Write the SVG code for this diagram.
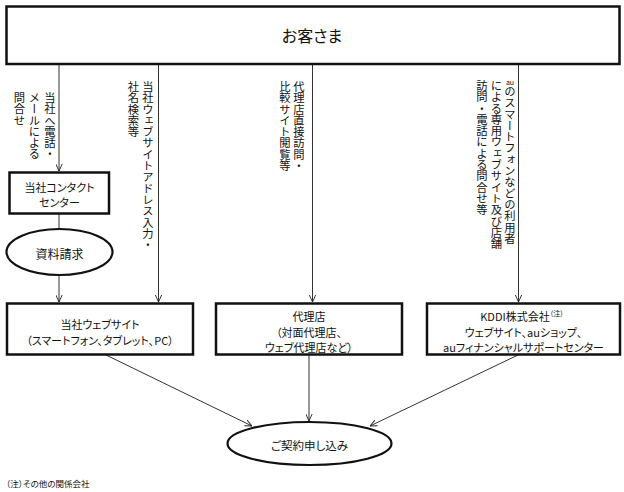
<svg xmlns="http://www.w3.org/2000/svg" width="624" height="492" viewBox="0 0 624 492">
<style>
text{font-family:"Noto Sans CJK JP","Noto Sans",sans-serif;fill:#111;}
.h{font-size:11px;text-anchor:middle;dominant-baseline:central;font-feature-settings:"palt";}
.v{font-size:11.3px;writing-mode:vertical-rl;text-anchor:start;}
.box{fill:#fff;stroke:#111;stroke-width:2.5;}
.ell{fill:#fff;stroke:#111;stroke-width:2.2;}
.ln{fill:none;stroke:#333;stroke-width:1;}
</style>
<defs>
<marker id="arr" viewBox="0 0 10 10" refX="10" refY="5" markerWidth="7" markerHeight="7" markerUnits="userSpaceOnUse" orient="auto">
<path d="M0,0.5 L10,5 L0,9.5" fill="none" stroke="#222" stroke-width="1.3"/>
</marker>
</defs>

<g id="connectors">
<line class="ln" x1="59" y1="64" x2="59" y2="171" marker-end="url(#arr)"/>
<line class="ln" x1="158.5" y1="64" x2="158.5" y2="302" marker-end="url(#arr)"/>
<line class="ln" x1="312.5" y1="64" x2="312.5" y2="302" marker-end="url(#arr)"/>
<line class="ln" x1="518.5" y1="64" x2="518.5" y2="302" marker-end="url(#arr)"/>
<line class="ln" x1="59" y1="213" x2="59" y2="229"/>
<line class="ln" x1="59" y1="275" x2="59" y2="302" marker-end="url(#arr)"/>
<line class="ln" x1="106" y1="355" x2="252" y2="426" marker-end="url(#arr)"/>
<line class="ln" x1="309" y1="355" x2="309" y2="421" marker-end="url(#arr)"/>
<line class="ln" x1="518" y1="355" x2="370" y2="426" marker-end="url(#arr)"/>
</g>

<g id="labels">
<text class="v" x="50" y="92">当社へ電話・</text>
<text class="v" x="34.5" y="92">メールによる</text>
<text class="v" x="19.5" y="92">問合せ</text>
<text class="v" x="148" y="81">当社ウェブサイトアドレス入力・</text>
<text class="v" x="133.5" y="81">社名検索等</text>
<text class="v" x="299" y="81">代理店直接訪問・</text>
<text class="v" x="285" y="81">比較サイト閲覧等</text>
<text x="510" y="85" style="font-size:7px;text-anchor:middle">au</text>
<text class="v" x="510" y="86">のスマートフォンなどの利用者</text>
<text class="v" x="496.5" y="80">による専用ウェブサイト及び店舗</text>
<text class="v" x="482" y="80">訪問・電話による問合せ等</text>
</g>

<g id="customer">
<rect class="box" x="6.5" y="6.5" width="613" height="57.5"/>
<text class="h" x="312" y="35" style="font-size:16px">お客さま</text>
</g>

<g id="contact">
<rect class="box" x="9.5" y="172.5" width="99.5" height="41"/>
<text class="h" x="59.5" y="187">当社コンタクト</text>
<text class="h" x="59.5" y="202">センター</text>
</g>

<g id="request">
<ellipse class="ell" cx="59.5" cy="252" rx="53" ry="23"/>
<text class="h" x="59.5" y="253" style="font-size:12px">資料請求</text>
</g>

<g id="website">
<rect class="box" x="7" y="303.5" width="186" height="51"/>
<text class="h" x="100" y="324">当社ウェブサイト</text>
<text class="h" x="100" y="340">（スマートフォン、タブレット、PC）</text>
</g>

<g id="agency">
<rect class="box" x="216" y="303.5" width="186" height="51"/>
<text class="h" x="309" y="315.5">代理店</text>
<text class="h" x="309" y="331.5">（対面代理店、</text>
<text class="h" x="309" y="347">ウェブ代理店など）</text>
</g>

<g id="kddi">
<rect class="box" x="427" y="303.5" width="193" height="51"/>
<text class="h" x="522" y="315.5">KDDI株式会社<tspan style="font-size:7px" dy="-3">（注）</tspan></text>
<text class="h" x="523.5" y="331.5">ウェブサイト、auショップ、</text>
<text class="h" x="523.5" y="347">auフィナンシャルサポートセンター</text>
</g>

<g id="contract">
<ellipse class="ell" cx="309.5" cy="443.5" rx="82" ry="21.5"/>
<text class="h" x="309.5" y="444.5" style="font-size:11.5px">ご契約申し込み</text>
</g>

<g id="note">
<text x="6" y="483" style="font-size:8.5px;dominant-baseline:central;font-feature-settings:'palt'">（注）その他の関係会社</text>
</g>
</svg>
